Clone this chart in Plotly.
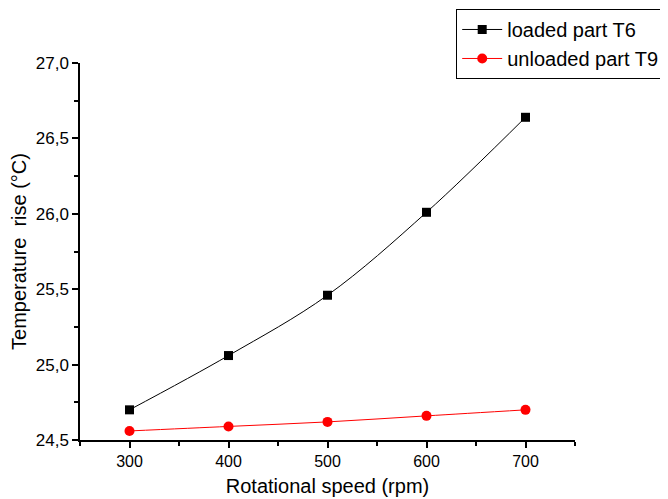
import plotly.graph_objects as go

speed = [300, 400, 500, 600, 700]
loaded_t6 = [24.70, 25.06, 25.46, 26.01, 26.64]
unloaded_t9 = [24.56, 24.59, 24.62, 24.66, 24.70]

fig = go.Figure()
fig.add_trace(go.Scatter(x=speed, y=loaded_t6, mode="lines+markers", name="loaded part T6",
                         line=dict(color="black", width=1, shape="spline"),
                         marker=dict(symbol="square", size=9, color="black")))
fig.add_trace(go.Scatter(x=speed, y=unloaded_t9, mode="lines+markers", name="unloaded part T9",
                         line=dict(color="red", width=1, shape="spline"),
                         marker=dict(symbol="circle", size=10, color="red")))

font = dict(family="Liberation Sans, Arial, sans-serif", color="black")
fig.update_layout(
    width=660, height=491,
    margin=dict(l=72, r=93, t=55, b=59, autoexpand=False),
    paper_bgcolor="white", plot_bgcolor="white",
    separators=",.",
    font=dict(**font, size=16),
    legend=dict(x=0.76, y=0.998, xref="paper", yref="container", xanchor="left", yanchor="top",
                bordercolor="black", borderwidth=1, font=dict(size=20),
                bgcolor="white", tracegroupgap=0, itemwidth=40),
    showlegend=True,
)
fig.update_xaxes(range=[250, 750], tickvals=[300, 400, 500, 600, 700],
                 ticks="outside", ticklen=6, tickwidth=1.5, tickcolor="black",
                 minor=dict(tickvals=[250, 350, 450, 550, 650, 750], ticks="outside", ticklen=4, tickcolor="black"),
                 showline=True, linecolor="black", linewidth=1.5, showgrid=False, zeroline=False,
                 title=dict(text="Rotational speed (rpm)", font=dict(size=20), standoff=10),
                 tickfont=dict(size=16))
fig.update_yaxes(range=[24.5, 27.0], tickvals=[24.5, 25.0, 25.5, 26.0, 26.5, 27.0], tickformat=".1f",
                 ticks="outside", ticklen=6, tickwidth=1.5, tickcolor="black",
                 minor=dict(tickvals=[24.75, 25.25, 25.75, 26.25, 26.75], ticks="outside", ticklen=4, tickcolor="black"),
                 showline=True, linecolor="black", linewidth=1.5, showgrid=False, zeroline=False,
                 title=dict(text="Temperature  rise (°C)", font=dict(size=20), standoff=5),
                 tickfont=dict(size=17))
fig.write_html("out.html")
